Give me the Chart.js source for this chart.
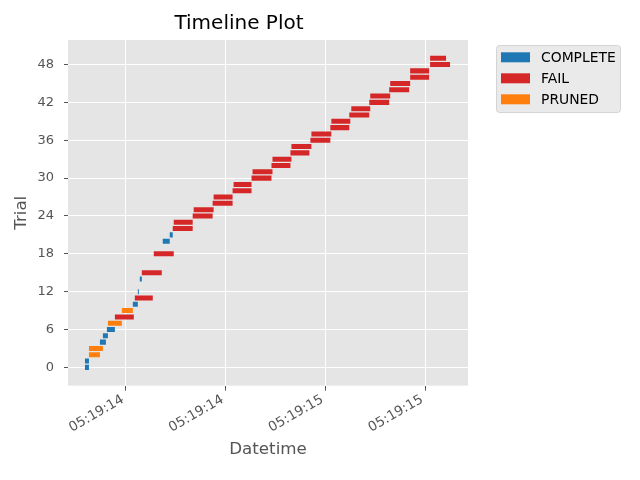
<!DOCTYPE html>
<html>
<head>
<meta charset="utf-8">
<title>Timeline Plot</title>
<script src="https://cdn.jsdelivr.net/npm/chart.js@4.4.1/dist/chart.umd.min.js"></script>
<style>
  html, body { margin: 0; padding: 0; background: #ffffff; }
</style>
</head>
<body>
<canvas id="timeline" width="640" height="480"></canvas>
<script>
// Trials; times are seconds after 05:19:00
const trialNumbers = [0, 1, 2, 3, 4, 5, 6, 7, 8, 9, 10, 11, 12, 14, 15, 18, 20, 21,
    22, 23, 24, 25, 26, 27, 28, 29, 30, 31, 32, 33, 34, 35, 36, 37, 38, 39,
    40, 41, 42, 43, 44, 45, 46, 47, 48, 49];
const startSec = [13.795, 13.795, 13.815, 13.815, 13.870, 13.885, 13.905, 13.910, 13.945, 13.980,
    14.035, 14.045, 14.060, 14.070, 14.080, 14.140, 14.185, 14.220,
    14.235, 14.240, 14.335, 14.340, 14.435, 14.440, 14.535, 14.540, 14.630, 14.635,
    14.730, 14.735, 14.825, 14.830, 14.925, 14.930, 15.025, 15.030,
    15.120, 15.130, 15.220, 15.225, 15.320, 15.325, 15.425, 15.425, 15.525, 15.525];
const endSec = [13.815, 13.815, 13.870, 13.885, 13.900, 13.910, 13.945, 13.980, 14.040, 14.035,
    14.060, 14.135, 14.065, 14.080, 14.180, 14.240, 14.220, 14.235,
    14.335, 14.335, 14.435, 14.440, 14.535, 14.535, 14.630, 14.630, 14.730, 14.735,
    14.825, 14.830, 14.920, 14.930, 15.025, 15.030, 15.120, 15.125,
    15.220, 15.225, 15.320, 15.325, 15.420, 15.425, 15.520, 15.520, 15.625, 15.605];
const trialStates = ['COMPLETE', 'COMPLETE', 'PRUNED', 'PRUNED', 'COMPLETE', 'COMPLETE', 'COMPLETE', 'PRUNED', 'FAIL', 'PRUNED',
    'COMPLETE', 'FAIL', 'COMPLETE', 'COMPLETE', 'FAIL', 'FAIL', 'COMPLETE', 'COMPLETE',
    'FAIL', 'FAIL', 'FAIL', 'FAIL', 'FAIL', 'FAIL', 'FAIL', 'FAIL', 'FAIL', 'FAIL',
    'FAIL', 'FAIL', 'FAIL', 'FAIL', 'FAIL', 'FAIL', 'FAIL', 'FAIL',
    'FAIL', 'FAIL', 'FAIL', 'FAIL', 'FAIL', 'FAIL', 'FAIL', 'FAIL', 'FAIL', 'FAIL'];

const stateNames = ['COMPLETE', 'FAIL', 'PRUNED'];
const stateColors = ['#1f77b4', '#d62728', '#ff7f0e'];

const yTicks = [0, 6, 12, 18, 24, 30, 36, 42, 48];
const xTicks = [14.0, 14.5, 15.0, 15.5];
const xTickLabels = ['05:19:14', '05:19:14', '05:19:15', '05:19:15'];

const TICK_COLOR = '#555555';
const FONT = '"DejaVu Sans", sans-serif';

// one floating-bar dataset per state
const datasets = stateNames.map((name, i) => ({
    label: name,
    backgroundColor: stateColors[i],
    borderWidth: 0,
    grouped: false,
    barPercentage: 0.8,
    categoryPercentage: 1.0,
    data: trialNumbers
        .map((n, k) => ({ x: [startSec[k], endSec[k]], y: n, state: trialStates[k] }))
        .filter(d => d.state === name)
}));

// grey plotting panel like the ggplot style
const panelBackground = {
    id: 'panelBackground',
    beforeDraw(chart) {
        const { ctx, chartArea: a } = chart;
        ctx.save();
        ctx.fillStyle = '#e5e5e5';
        ctx.fillRect(a.left, a.top, a.right - a.left, a.bottom - a.top);
        ctx.restore();
    }
};

// legend box placed outside the axes, upper right
const outsideLegend = {
    id: 'outsideLegend',
    afterDraw(chart) {
        const { ctx, chartArea: a } = chart;
        const x = a.right + 28, y = a.top + 5, w = 124, h = 67;
        ctx.save();
        ctx.beginPath();
        ctx.roundRect(x + 0.5, y + 0.5, w, h, 3);
        ctx.fillStyle = 'rgba(229,229,229,0.8)';
        ctx.fill();
        ctx.strokeStyle = 'rgba(204,204,204,0.8)';
        ctx.lineWidth = 1;
        ctx.stroke();
        ctx.font = '13.9px ' + FONT;
        ctx.textBaseline = 'middle';
        chart.data.datasets.forEach((ds, i) => {
            const cy = y + 12.3 + i * 21;
            ctx.fillStyle = ds.backgroundColor;
            ctx.fillRect(x + 5, cy - 5, 29, 10);
            ctx.fillStyle = '#000000';
            ctx.fillText(ds.label, x + 45, cy + 1);
        });
        ctx.restore();
    }
};

new Chart(document.getElementById('timeline'), {
    type: 'bar',
    data: { datasets },
    plugins: [panelBackground, outsideLegend],
    options: {
        responsive: false,
        animation: false,
        indexAxis: 'y',
        layout: { padding: { left: 10, right: 172, top: 12, bottom: 20 } },
        plugins: {
            legend: { display: false },
            tooltip: { enabled: false },
            title: {
                display: true,
                text: 'Timeline Plot',
                color: '#000000',
                font: { family: FONT, size: 20, weight: 'normal' },
                padding: { top: 0, bottom: 4 }
            }
        },
        scales: {
            x: {
                type: 'linear',
                min: 13.71,
                max: 15.715,
                afterBuildTicks: s => { s.ticks = xTicks.map(v => ({ value: v })); },
                ticks: {
                    color: TICK_COLOR,
                    font: { family: FONT, size: 13.5 },
                    minRotation: 30,
                    maxRotation: 30,
                    padding: 1,
                    labelOffset: -3,
                    callback: (v, i) => xTickLabels[i]
                },
                grid: { color: '#ffffff', lineWidth: 1, tickColor: TICK_COLOR, tickLength: 5, tickWidth: 1 },
                border: { display: false },
                title: {
                    display: true,
                    text: 'Datetime',
                    color: TICK_COLOR,
                    font: { family: FONT, size: 16.7 },
                    padding: { top: 3, bottom: 0 }
                }
            },
            y: {
                type: 'linear',
                offset: false,
                min: -2.89,
                max: 51.89,
                afterBuildTicks: s => { s.ticks = yTicks.map(v => ({ value: v })); },
                afterFit: s => { s.width = 58; },
                ticks: {
                    color: TICK_COLOR,
                    font: { family: FONT, size: 13 },
                    padding: 10
                },
                grid: { offset: false, color: '#ffffff', lineWidth: 1, tickColor: TICK_COLOR, tickLength: 4, tickWidth: 1 },
                border: { display: false },
                title: {
                    display: true,
                    text: 'Trial',
                    color: TICK_COLOR,
                    font: { family: FONT, size: 16.7 },
                    padding: { top: 2, bottom: 0 }
                }
            }
        }
    }
});
</script>
</body>
</html>
